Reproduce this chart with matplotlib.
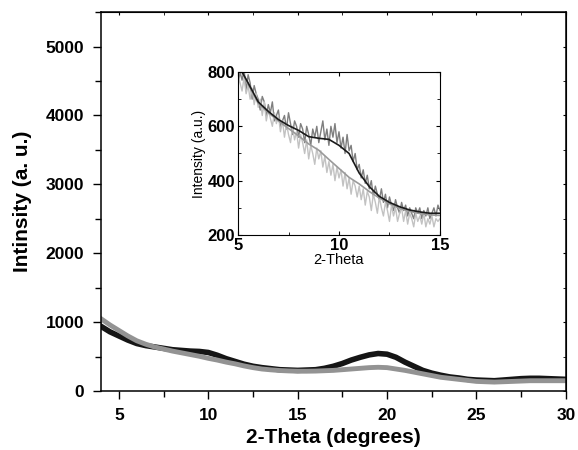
import matplotlib
matplotlib.use("Agg")
import matplotlib.pyplot as plt
from matplotlib.ticker import MultipleLocator

plt.rcParams['font.family'] = ['Liberation Sans', 'DejaVu Sans']

# Main chart: sample A (black) and sample B (gray)
main_x = [4, 4.5, 5, 5.5, 6, 6.5, 7, 7.5, 8, 8.5, 9, 9.5, 10, 10.5, 11, 11.5, 12, 12.5, 13, 13.5,
          14, 14.5, 15, 15.5, 16, 16.5, 17, 17.5, 18, 18.5, 19, 19.5, 20, 20.5, 21, 21.5, 22, 22.5,
          23, 23.5, 24, 24.5, 25, 25.5, 26, 26.5, 27, 27.5, 28, 28.5, 29, 29.5, 30]
black_y = [940, 860, 800, 740, 690, 660, 640, 620, 600, 590, 580, 575, 560, 520, 470, 430, 390, 360, 340, 325,
           310, 305, 300, 305, 310, 330, 360, 400, 450, 490, 525, 545, 535, 490, 420, 360, 300, 260,
           230, 205, 190, 170, 160, 155, 150, 160, 170, 180, 185, 185, 180, 175, 170]
gray_y = [1050, 960, 880, 800, 730, 680, 640, 610, 580, 555, 530, 505, 475, 450, 420, 395, 365, 340, 320, 308,
          298, 292, 288, 288, 290, 295, 300, 310, 320, 330, 340, 345, 340, 320, 300, 275, 250, 225,
          200, 185, 170, 155, 140, 135, 130, 135, 140, 145, 150, 150, 150, 150, 150]

# Inset: raw and smoothed data (5-15 deg)
raw_x = [round(5 + 0.1 * i, 1) for i in range(101)]
raw_dark = [750, 800, 770, 810, 730, 790, 760, 700, 750, 720,
            700, 660, 710, 690, 640, 680, 650, 690, 620, 640,
            660, 600, 620, 640, 590, 650, 610, 570, 620, 600,
            560, 610, 590, 540, 600, 570, 530, 590, 560, 600,
            540, 580, 620, 550, 590, 530, 600, 560, 610, 540,
            580, 520, 560, 500, 570, 510, 530, 470, 500, 440,
            460, 410, 440, 390, 420, 370, 400, 340, 380, 350,
            330, 370, 320, 350, 300, 340, 310, 290, 330, 300,
            280, 320, 290, 310, 270, 300, 280, 260, 300, 280,
            300, 260, 290, 270, 300, 260, 280, 300, 270, 310,
            290]
raw_light = [790, 760, 730, 780, 720, 750, 700, 740, 680, 720,
             670, 700, 640, 690, 620, 660, 630, 600, 650, 610,
             640, 580, 620, 560, 610, 570, 540, 600, 550, 580,
             520, 570, 540, 500, 550, 480, 530, 500, 460, 520,
             480, 510, 450, 490, 430, 470, 420, 460, 400, 450,
             410, 440, 380, 430, 370, 410, 350, 400, 380, 340,
             380, 330, 370, 310, 360, 340, 290, 350, 320, 280,
             340, 300, 270, 320, 290, 250, 310, 270, 300, 250,
             280, 300, 250, 290, 240, 280, 260, 230, 280, 250,
             270, 240, 280, 230, 260, 240, 270, 230, 260, 250,
             260]
smooth_x = [5.2, 5.5, 6, 6.5, 7, 7.5, 8, 8.5, 9, 9.5, 10, 10.5, 11, 11.5, 12, 12.5, 13, 13.5, 14, 14.5, 15]
smooth_dark = [800, 760, 690, 655, 625, 603, 585, 562, 556, 552, 530, 500, 428, 378, 342, 320, 304, 292, 285, 280, 280]
smooth_light = [800, 755, 685, 650, 620, 592, 565, 535, 512, 478, 445, 412, 388, 360, 336, 315, 298, 287, 279, 274, 272]

fig = plt.figure(figsize=(5.78, 4.5), dpi=100)
ax = fig.add_axes([0.1747, 0.131, 0.8043, 0.842])
ax.plot(main_x, black_y, color='#151515', lw=4, solid_joinstyle='round')
ax.plot(main_x, gray_y, color='#939393', lw=3.5, solid_joinstyle='round')
ax.set_xlim(4, 30)
ax.set_ylim(0, 5500)
ax.set_xticks([5, 10, 15, 20, 25, 30])
ax.set_yticks([0, 1000, 2000, 3000, 4000, 5000])
ax.xaxis.set_minor_locator(MultipleLocator(2.5))
ax.yaxis.set_minor_locator(MultipleLocator(500))
ax.tick_params(which='both', direction='out', width=1, labelsize=12.5)
ax.tick_params(which='major', length=6, pad=6)
ax.tick_params(which='minor', length=4)
for lab in ax.get_xticklabels() + ax.get_yticklabels():
    lab.set_fontweight('bold')
ax.set_xlabel('2-Theta (degrees)', fontsize=15, fontweight='bold', labelpad=4)
ax.set_ylabel('Intinsity (a. u.)', fontsize=15, fontweight='bold', labelpad=10)
for s in ax.spines.values():
    s.set_linewidth(1.1)
ax2t = ax.secondary_xaxis('top')
ax2t.set_xticks([5, 10, 15, 20, 25, 30], labels=[])
ax2t.xaxis.set_minor_locator(MultipleLocator(2.5))
ax2t.tick_params(which='both', direction='in', length=2)
ax2r = ax.secondary_yaxis('right')
ax2r.set_yticks([1000, 2000, 3000, 4000, 5000], labels=[])
ax2r.yaxis.set_minor_locator(MultipleLocator(500))
ax2r.tick_params(which='both', direction='in', length=2)

# Inset
ins = fig.add_axes([0.4118, 0.4778, 0.3494, 0.3622])
ins.plot(raw_x, raw_dark, color='#7f7f7f', lw=1.0)
ins.plot(raw_x, raw_light, color='#c2c2c2', lw=1.0)
ins.plot(smooth_x, smooth_light, color='#9a9a9a', lw=1.2)
ins.plot(smooth_x, smooth_dark, color='#1a1a1a', lw=1.2)
ins.set_xlim(5, 15)
ins.set_ylim(200, 800)
ins.set_xticks([5, 10, 15])
ins.set_yticks([200, 400, 600, 800])
ins.xaxis.set_minor_locator(MultipleLocator(2.5))
ins.yaxis.set_minor_locator(MultipleLocator(100))
ins.tick_params(which='both', direction='in', top=True, right=True, labelsize=12, pad=2)
ins.tick_params(which='major', length=3)
ins.tick_params(which='minor', length=2)
for lab in ins.get_xticklabels() + ins.get_yticklabels():
    lab.set_fontweight('bold')
ins.set_xlabel('2-Theta', fontsize=10.5, labelpad=0)
ins.set_ylabel('Intensity (a.u.)', fontsize=10, labelpad=1)

fig.savefig('out.png', dpi=100)
